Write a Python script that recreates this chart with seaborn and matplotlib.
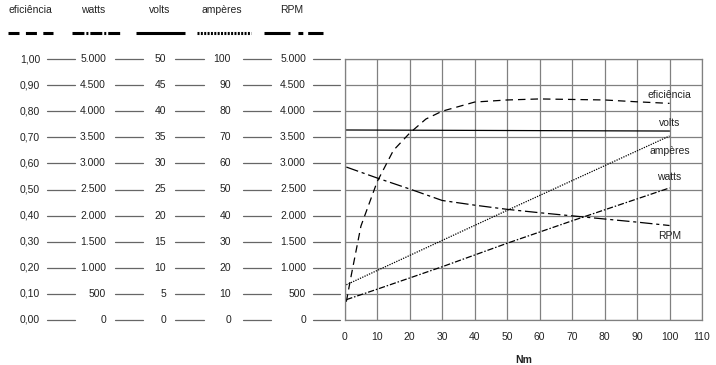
import matplotlib
matplotlib.use("Agg")
import matplotlib.pyplot as plt
from matplotlib.lines import Line2D
from matplotlib.transforms import blended_transform_factory
import seaborn as sns
import pandas as pd

# ── Data ────────────────────────────────────────────────────
nm_eff = [0.5, 2, 5, 10, 15, 20, 25, 30, 40, 50, 60, 70, 80, 90, 100]
eficiencia = [0.07, 0.17, 0.36, 0.53, 0.65, 0.716, 0.77, 0.80, 0.835, 0.843,
              0.847, 0.845, 0.843, 0.836, 0.83]

nm_watts = [0.5, 10, 30, 50, 70, 100]
watts = [390, 590, 1020, 1470, 1900, 2530]

nm_volts = [0.5, 100]
volts = [36.4, 36.2]

nm_amp = [0.5, 50, 100]
amperes = [13.5, 42.0, 70.5]

nm_rpm = [0.5, 10, 20, 30, 40, 50, 60, 70, 80, 90, 100]
rpm = [2930, 2720, 2510, 2290, 2200, 2120, 2055, 1995, 1935, 1875, 1810]

series_names = ["eficiência", "watts", "volts", "ampères", "RPM"]
eff_ticks = ["1,00", "0,90", "0,80", "0,70", "0,60", "0,50", "0,40", "0,30", "0,20", "0,10", "0,00"]
watts_ticks = ["5.000", "4.500", "4.000", "3.500", "3.000", "2.500", "2.000", "1.500", "1.000", "500", "0"]
volts_ticks = ["50", "45", "40", "35", "30", "25", "20", "15", "10", "5", "0"]
amp_ticks = ["100", "90", "80", "70", "60", "50", "40", "30", "20", "10", "0"]
rpm_ticks = ["5.000", "4.500", "4.000", "3.500", "3.000", "2.500", "2.000", "1.500", "1.000", "500", "0"]
y_levels = [5000, 4500, 4000, 3500, 3000, 2500, 2000, 1500, 1000, 500, 0]
x_ticks = [0, 10, 20, 30, 40, 50, 60, 70, 80, 90, 100, 110]

# everything is drawn on the 0-5000 scale (same as watts / RPM)
SCALE = {"eficiência": 5000, "watts": 1, "volts": 100, "ampères": 50, "RPM": 1}

sns.set_style("white")
plt.rcParams["font.family"] = ["Liberation Sans", "DejaVu Sans"]
FS = 7.5
TXT = "#222222"

W, H = 716, 365
fig = plt.figure(figsize=(W / 100, H / 100), dpi=100)
ax = fig.add_axes([344.7 / W, 1 - 320 / H, (702 - 344.7) / W, (320 - 59) / H])

styles = {
    "eficiência": dict(dashes=(6, 4)),
    "watts": dict(dashes=(5, 1.5, 1.2, 1.5)),
    "volts": dict(linestyle="-"),
    "ampères": dict(dashes=(1, 1)),
    "RPM": dict(dashes=(10, 3, 2.5, 3)),
}
data = {
    "eficiência": (nm_eff, eficiencia),
    "watts": (nm_watts, watts),
    "volts": (nm_volts, volts),
    "ampères": (nm_amp, amperes),
    "RPM": (nm_rpm, rpm),
}
for name in series_names:
    xs, ys = data[name]
    df = pd.DataFrame({"Nm": xs, "v": [v * SCALE[name] for v in ys]})
    sns.lineplot(data=df, x="Nm", y="v", ax=ax, color="black", lw=0.9)
    line = ax.lines[-1]
    st = styles[name]
    if "dashes" in st:
        line.set_dashes(st["dashes"])
    else:
        line.set_linestyle(st["linestyle"])

# labels on the right end of each curve
label_y = {"eficiência": 4310, "volts": 3775, "ampères": 3240, "watts": 2740, "RPM": 1610}
for name, yy in label_y.items():
    ax.text(100, yy, name, ha="center", va="center", fontsize=FS, color=TXT)

ax.set_xlim(0, 110)
ax.set_ylim(0, 5000)
ax.set_xticks(x_ticks)
ax.set_yticks(y_levels)
ax.set_yticklabels([])
ax.grid(True, color="#808080", lw=0.9)
for s in ax.spines.values():
    s.set_color("#808080")
    s.set_linewidth(0.9)
ax.tick_params(axis="both", length=0, labelsize=FS, colors=TXT, pad=9)
ax.set_xlabel("Nm", fontsize=FS, fontweight="bold", color=TXT, labelpad=9)
ax.set_ylabel("")

# ── left scale columns ─────────────────────────────────────
trans = blended_transform_factory(fig.transFigure, ax.transData)
cols = [
    (eff_ticks, 40, 47, 75),
    (watts_ticks, 106, 115, 143),
    (volts_ticks, 166, 175, 204),
    (amp_ticks, 231, 243, 271),
    (rpm_ticks, 306, 313, 340),
]
for labels, x_right, d0, d1 in cols:
    for lab, yv in zip(labels, y_levels):
        ax.text(x_right / W, yv, lab, transform=trans, ha="right", va="center",
                fontsize=FS, color=TXT, clip_on=False)
        ax.add_line(Line2D([d0 / W, d1 / W], [yv, yv], transform=trans,
                           color="#666666", lw=0.9, clip_on=False))

# ── header: names and line samples ─────────────────────────
head_x = [30, 93, 160, 222, 292]
sample_x = [(8, 53), (72, 121), (136, 185), (197, 251), (264, 323)]
# dash patterns are multiplied by the line width (2.2)
sample_style = {
    "eficiência": (3.6, 2.1),
    "watts": (3.9, 0.65, 0.65, 0.65),
    "volts": None,
    "ampères": (0.65, 0.45),
    "RPM": (8.5, 2.6, 1.6, 1.6),
}
for name, hx, (s0, s1) in zip(series_names, head_x, sample_x):
    fig.text(hx / W, 1 - 10 / H, name, ha="center", va="center", fontsize=FS, color=TXT)
    l = Line2D([s0 / W, s1 / W], [1 - 33 / H, 1 - 33 / H], transform=fig.transFigure,
               color="black", lw=2.2, solid_capstyle="butt", dash_capstyle="butt")
    if sample_style[name] is not None:
        l.set_dashes(sample_style[name])
    fig.add_artist(l)

fig.savefig("out.png", dpi=100)
